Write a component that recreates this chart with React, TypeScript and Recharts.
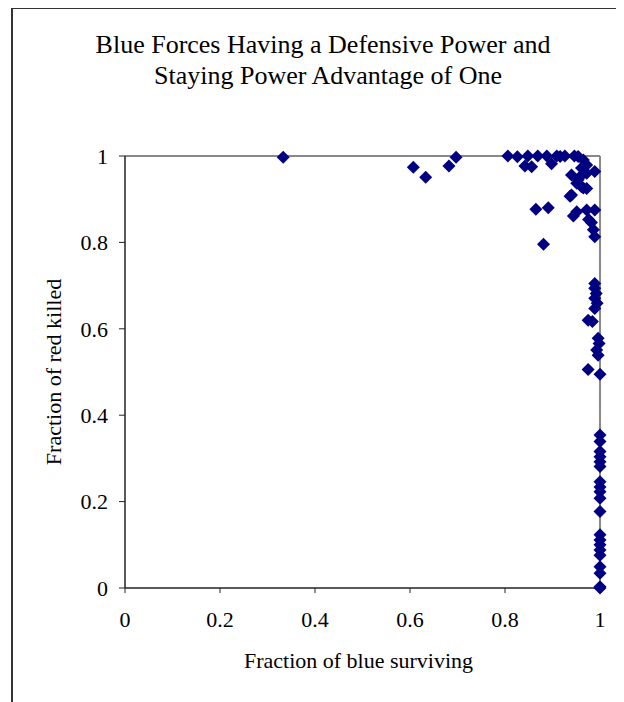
import React from "react";
import {
  ReferenceLine,
  Scatter,
  ScatterChart,
  XAxis,
  YAxis,
} from "recharts";

const blueSurviving = [
  0.333, 0.697, 0.806, 0.826, 0.848, 0.869, 0.888, 0.909, 0.916, 0.926, 0.946, 0.954,
  0.607, 0.633, 0.682, 0.842, 0.856, 0.898, 0.965, 0.972, 0.989, 0.94, 0.958, 0.972,
  0.951, 0.961, 0.972, 0.94, 0.961, 0.954, 0.965, 0.937,
  0.865, 0.891, 0.944, 0.951, 0.972, 0.989, 0.976, 0.982, 0.986, 0.989, 0.881,
  0.989, 0.989, 0.992, 0.989, 0.994, 0.989, 0.975, 0.984, 0.996, 0.998, 0.993, 0.996,
  0.975, 1.0,
  1.0, 1.0, 1.0, 1.0, 1.0, 1.0, 1.0, 1.0, 1.0, 1.0, 1.0, 1.0, 1.0, 1.0, 1.0, 1.0,
  1.0, 1.0, 1.0, 1.0,
];

const redKilled = [
  0.997, 0.997, 1.0, 0.998, 1.0, 1.0, 1.0, 1.0, 0.999, 1.0, 1.0, 0.999,
  0.974, 0.951, 0.977, 0.977, 0.975, 0.982, 0.991, 0.979, 0.964, 0.956, 0.952, 0.96,
  0.937, 0.929, 0.925, 0.91, 0.972, 0.945, 0.926, 0.907,
  0.877, 0.88, 0.861, 0.871, 0.875, 0.875, 0.853, 0.846, 0.829, 0.813, 0.796,
  0.705, 0.694, 0.682, 0.671, 0.659, 0.647, 0.62, 0.617, 0.578, 0.566, 0.551, 0.539,
  0.506, 0.495,
  0.354, 0.339, 0.316, 0.304, 0.292, 0.281, 0.246, 0.234, 0.223, 0.208, 0.177, 0.123,
  0.111, 0.1, 0.088, 0.076, 0.049, 0.034, 0.003, 0.0,
];

const axisTicks = [0, 0.2, 0.4, 0.6, 0.8, 1];
const titleLines = [
  "Blue Forces Having a Defensive Power and",
  "Staying Power Advantage of One",
];

const data = blueSurviving.map((x, i) => ({ x, y: redKilled[i] }));

const FONT = "'Liberation Serif', 'Times New Roman', serif";

function Diamond(props: any) {
  const { cx, cy } = props;
  const r = 6.5;
  return (
    <path
      d={`M${cx},${cy - r}L${cx + r},${cy}L${cx},${cy + r}L${cx - r},${cy}Z`}
      fill="#000080"
    />
  );
}

export default function App() {
  const tick = { fill: "#000", fontSize: 22, fontFamily: FONT };
  return (
    <div style={{ position: "relative", width: 616, height: 694, overflow: "hidden" }}>
      <div
        style={{
          position: "absolute",
          left: 3,
          top: -1,
          width: 800,
          height: 900,
          borderLeft: "2px solid #333",
          borderTop: "2px solid #333",
        }}
      />
      <svg
        width={616}
        height={120}
        style={{ position: "absolute", left: 0, top: 0, fontFamily: FONT }}
      >
        <text x={315} y={45} textAnchor="middle" fontSize={26} fill="#000">
          {titleLines[0]}
        </text>
        <text x={320} y={76} textAnchor="middle" fontSize={26} fill="#000">
          {titleLines[1]}
        </text>
      </svg>
      <div style={{ position: "absolute", left: 0, top: 0 }}>
        <ScatterChart
          width={616}
          height={694}
          margin={{ top: 148, right: 24, bottom: 0, left: 0 }}
        >
          <XAxis
            type="number"
            dataKey="x"
            domain={[0, 1]}
            ticks={axisTicks}
            tickFormatter={(v) => String(v)}
            height={114}
            tick={tick}
            tickSize={5}
            tickMargin={18}
            axisLine={{ stroke: "#222", strokeWidth: 1.5 }}
            tickLine={{ stroke: "#222" }}
            label={{
              value: "Fraction of blue surviving",
              position: "insideTop",
              offset: 64,
              dx: -4,
              fill: "#000",
              fontSize: 22,
              fontFamily: FONT,
            }}
          />
          <YAxis
            type="number"
            dataKey="y"
            domain={[0, 1]}
            ticks={axisTicks}
            tickFormatter={(v) => String(v)}
            width={117}
            tick={tick}
            tickSize={6}
            tickMargin={11}
            axisLine={{ stroke: "#222", strokeWidth: 1.5 }}
            tickLine={{ stroke: "#222" }}
            label={{
              value: "Fraction of red killed",
              angle: -90,
              position: "insideLeft",
              offset: 45,
              style: { textAnchor: "middle" },
              fill: "#000",
              fontSize: 22,
              fontFamily: FONT,
            }}
          />
          <ReferenceLine y={1} stroke="#888" strokeWidth={2} />
          <ReferenceLine x={1} stroke="#888" strokeWidth={2} />
          <Scatter data={data} shape={Diamond} isAnimationActive={false} />
        </ScatterChart>
      </div>
    </div>
  );
}
